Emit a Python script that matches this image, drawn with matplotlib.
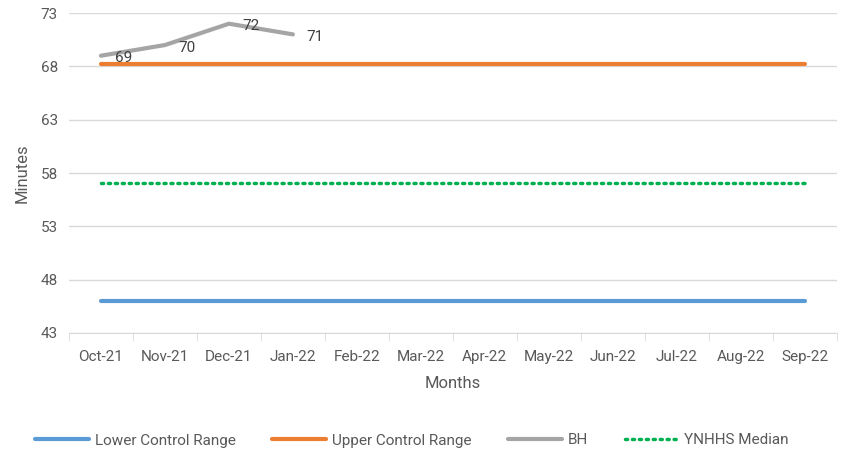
import numpy as np
from matplotlib import pyplot as plt

plt.rcParams['font.family'] = ['Roboto', 'DejaVu Sans']

months = ['Oct-21', 'Nov-21', 'Dec-21', 'Jan-22', 'Feb-22', 'Mar-22',
          'Apr-22', 'May-22', 'Jun-22', 'Jul-22', 'Aug-22', 'Sep-22']
lower_control = [46.0] * 12
upper_control = [68.2] * 12
bh = [69, 70, 72, 71]
ynhhs_median = [57.1] * 12

x = np.arange(len(months))
text_color = '#595959'

fig = plt.figure(figsize=(8.41, 4.5), dpi=100)
ax = fig.add_axes([0.082, 0.26, 0.913, 0.711])

ax.plot(x, lower_control, color='#5B9BD5', lw=3, solid_capstyle='round', label='Lower Control Range')
ax.plot(x, upper_control, color='#ED7D31', lw=3, solid_capstyle='round', label='Upper Control Range')
ax.plot(x[:len(bh)], bh, color='#A5A5A5', lw=3, solid_capstyle='round', label='BH')
ax.plot(x, ynhhs_median, color='#00B050', lw=2.5, linestyle=(0, (0.6, 1.4)),
        dash_capstyle='round', label='YNHHS Median')

for xi, v in zip(x, bh):
    ax.annotate(str(v), (xi, v), xytext=(10, -2), textcoords='offset points',
                ha='left', va='center', fontsize=11, color='#404040')

ax.set_xlim(-0.5, 11.5)
ax.set_ylim(43, 73)
ax.set_yticks(range(43, 74, 5))
ax.set_xticks(x)
ax.set_xticklabels(months)
ax.set_xticks(np.arange(-0.5, 12, 1), minor=True)
ax.tick_params(axis='x', which='major', length=0, pad=12, labelsize=11, labelcolor=text_color)
ax.tick_params(axis='x', which='minor', length=6, color='#D9D9D9')
ax.tick_params(axis='y', length=0, pad=8, labelsize=11, labelcolor=text_color)
ax.grid(axis='y', color='#D9D9D9', lw=1)
ax.set_axisbelow(True)
for s in ['top', 'right', 'left']:
    ax.spines[s].set_visible(False)
ax.spines['bottom'].set_color('#D9D9D9')

ax.set_xlabel('Months', fontsize=12, color=text_color, labelpad=9)
ax.set_ylabel('Minutes', fontsize=12, color=text_color, labelpad=8)

fig.legend(loc='lower center', bbox_to_anchor=(0.49, -0.025), ncol=4, frameon=False,
           handlelength=3.5, handletextpad=0.4, columnspacing=2.4,
           fontsize=11, labelcolor=text_color)

fig.savefig('out.png', dpi=100)
